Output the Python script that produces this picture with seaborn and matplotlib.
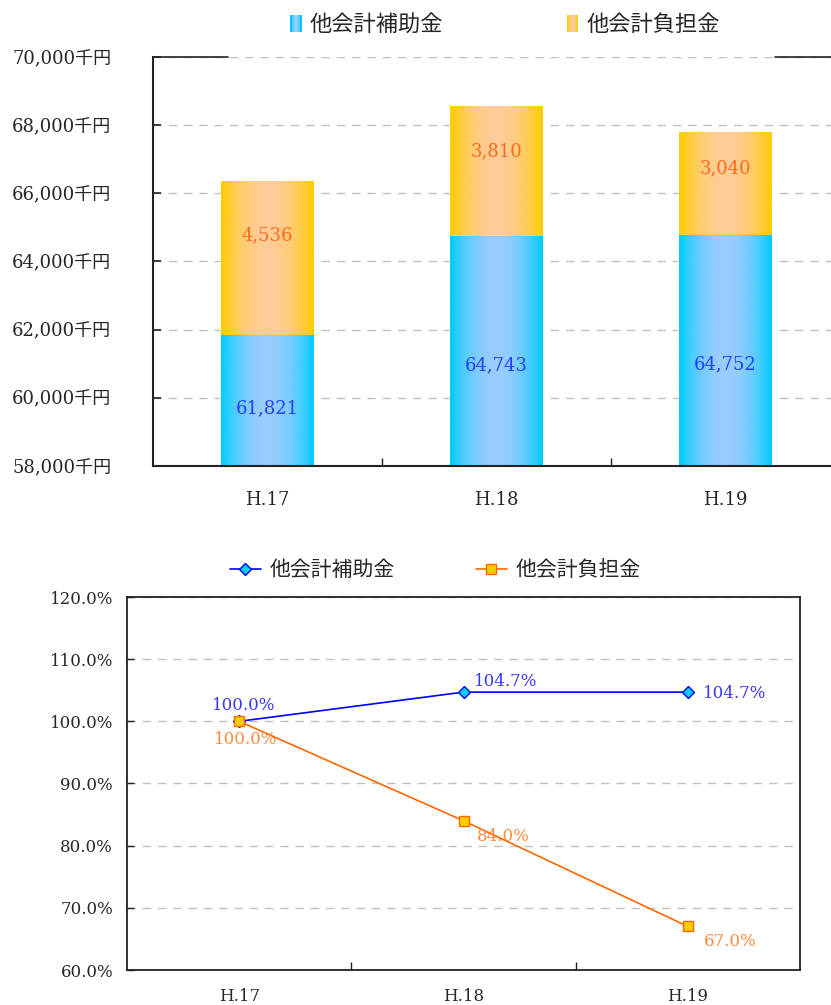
import numpy as np
import pandas as pd
import matplotlib
matplotlib.use("Agg")
import matplotlib.pyplot as plt
from matplotlib.colors import to_rgb
from matplotlib.legend_handler import HandlerBase
from matplotlib.patches import Rectangle
from matplotlib.ticker import FixedLocator
import seaborn as sns

# ---- data -------------------------------------------------------------
years = ["H.17", "H.18", "H.19"]
series_names = ["他会計補助金", "他会計負担金"]
subsidy = [61821, 64743, 64752]        # 他会計補助金 (千円)
burden = [4536, 3810, 3040]            # 他会計負担金 (千円)
subsidy_pct = [100.0, 104.7, 104.7]    # H.17 = 100
burden_pct = [100.0, 84.0, 67.0]
amount_ticks = [58000, 60000, 62000, 64000, 66000, 68000, 70000]
pct_ticks = [60, 70, 80, 90, 100, 110, 120]

# ---- style ------------------------------------------------------------
sns.set_theme(style="white")
plt.rcParams["font.family"] = ["DejaVu Serif", "Noto Sans CJK JP"]
plt.rcParams["axes.unicode_minus"] = False

BLUE_EDGE, BLUE_MID = "#00CCFF", "#99CCFF"
ORANGE_EDGE, ORANGE_MID = "#FFCC00", "#FFCC99"
SPINE = "#222222"
GRID = "#C0C0C0"


def gradient_colors(edge, center, n=64):
    x = np.linspace(0, 1, n)
    f = np.clip(1 - np.abs(2 * x - 1) ** 2, 0, 1)
    e = np.array(to_rgb(edge))
    c = np.array(to_rgb(center))
    return e[None, :] + (c - e)[None, :] * f[:, None]


def paint_bars(ax, patches, edge, center, z, floor):
    """Fill each bar with a horizontal edge-centre-edge gradient."""
    img = gradient_colors(edge, center)[None, :, :]
    for p in patches:
        x0, y0 = p.get_x(), p.get_y()
        w, h = p.get_width(), p.get_height()
        y_start = max(y0, floor)
        ax.imshow(img, extent=[x0, x0 + w, y_start, y0 + h], aspect="auto",
                  interpolation="bilinear", origin="lower", zorder=z)


class GradientHandler(HandlerBase):
    def __init__(self, edge, center):
        super().__init__()
        self.edge, self.center = edge, center

    def create_artists(self, legend, orig_handle, xdescent, ydescent,
                       width, height, fontsize, trans):
        n = 10
        cols = gradient_colors(self.edge, self.center, n)
        arts = []
        for i in range(n):
            r = Rectangle((-xdescent + i * width / n, -ydescent),
                          width / n * 1.08, height, facecolor=cols[i],
                          edgecolor="none", linewidth=0, transform=trans)
            arts.append(r)
        return arts


fig = plt.figure(figsize=(8.31, 10.05), dpi=100)

# ---- stacked amount chart ---------------------------------------------
df = pd.DataFrame({"year": years, "subsidy": subsidy, "burden": burden})
df["total"] = df["subsidy"] + df["burden"]

ax1 = fig.add_axes([153 / 831, 539 / 1005, 687 / 831, 409 / 1005])
n0 = len(ax1.patches)
sns.barplot(data=df, x="year", y="total", ax=ax1, color=ORANGE_EDGE,
            saturation=1, width=0.406, errorbar=None, zorder=2)
orange_patches = ax1.patches[n0:]
n1 = len(ax1.patches)
sns.barplot(data=df, x="year", y="subsidy", ax=ax1, color=BLUE_EDGE,
            saturation=1, width=0.406, errorbar=None, zorder=3)
blue_patches = ax1.patches[n1:]
paint_bars(ax1, orange_patches, ORANGE_EDGE, ORANGE_MID, 2.5, amount_ticks[0])
paint_bars(ax1, blue_patches, BLUE_EDGE, BLUE_MID, 3.5, amount_ticks[0])

ax1.set_xlim(-0.5, 2.5)
ax1.set_ylim(amount_ticks[0], amount_ticks[-1])
ax1.set_yticks(amount_ticks)
ax1.set_yticklabels([f"{v:,}千円" for v in amount_ticks], fontsize=13)
ax1.set_xticks(range(len(years)))
ax1.set_xticklabels(years, fontsize=13)
ax1.xaxis.set_minor_locator(FixedLocator([0.5, 1.5]))
ax1.tick_params(axis="x", which="major", length=0, pad=18)
ax1.tick_params(axis="x", which="minor", direction="in", length=6,
                width=1, color=SPINE, bottom=True)
ax1.tick_params(axis="y", direction="in", length=6, width=1.2,
                color=SPINE, pad=30, left=True)
ax1.set_xlabel("")
ax1.set_ylabel("")
ax1.yaxis.grid(True, linestyle=(0, (6, 5)), color=GRID, linewidth=1)
ax1.set_axisbelow(True)
for side in ("top", "right"):
    ax1.spines[side].set_visible(False)
for side in ("left", "bottom"):
    ax1.spines[side].set_color(SPINE)
    ax1.spines[side].set_linewidth(1.5)
    ax1.spines[side].set_zorder(6)
# top border, broken where the legend sits
for xa, xb in [(0.0, 0.109), (0.905, 1.0)]:
    ax1.plot([xa, xb], [1, 1], transform=ax1.transAxes, color=SPINE,
             linewidth=1.2, clip_on=False, zorder=5)

y_lo = amount_ticks[0]
for i in range(len(years)):
    ax1.text(i, y_lo + 0.44 * (subsidy[i] - y_lo), f"{subsidy[i]:,}",
             ha="center", va="center", fontsize=13, color="#2040FF", zorder=7)
    ax1.text(i, subsidy[i] + 0.65 * burden[i], f"{burden[i]:,}",
             ha="center", va="center", fontsize=13, color="#FF6A1A", zorder=7)

h_blue = Rectangle((0, 0), 1, 1)
h_orange = Rectangle((0, 0), 1, 1)
fig.legend([h_blue, h_orange], series_names, loc="center",
           bbox_to_anchor=(505 / 831, 1 - 25 / 1005), ncol=2, frameon=False,
           fontsize=16, handlelength=0.5, handleheight=0.8,
           handletextpad=0.35, columnspacing=5.6,
           handler_map={h_blue: GradientHandler(BLUE_EDGE, BLUE_MID),
                        h_orange: GradientHandler(ORANGE_EDGE, ORANGE_MID)})

# ---- ratio line chart -------------------------------------------------
ax2 = fig.add_axes([127 / 831, 35 / 1005, 673 / 831, 373 / 1005])
sns.lineplot(x=years, y=subsidy_pct, ax=ax2, sort=False, color="#0000FF",
             linewidth=1.2, marker="D", markersize=6.5,
             markerfacecolor="#00CCFF", markeredgecolor="#0000FF",
             markeredgewidth=1.0, label=series_names[0], zorder=4)
sns.lineplot(x=years, y=burden_pct, ax=ax2, sort=False, color="#FF6600",
             linewidth=1.2, marker="s", markersize=6.5,
             markerfacecolor="#FFCC00", markeredgecolor="#FF6600",
             markeredgewidth=1.0, label=series_names[1], zorder=5)

ax2.set_xlim(-0.5, 2.5)
ax2.set_ylim(pct_ticks[0], pct_ticks[-1])
ax2.set_yticks(pct_ticks)
ax2.set_yticklabels([f"{v:.1f}%" for v in pct_ticks], fontsize=12)
ax2.set_xticks(range(len(years)))
ax2.set_xticklabels(years, fontsize=12)
ax2.xaxis.set_minor_locator(FixedLocator([0.5, 1.5]))
ax2.tick_params(axis="x", which="major", length=0, pad=13)
ax2.tick_params(axis="x", which="minor", direction="in", length=6,
                width=1, color=SPINE, bottom=True)
ax2.tick_params(axis="y", direction="in", length=5, width=1,
                color=SPINE, pad=10, left=True)
ax2.set_xlabel("")
ax2.set_ylabel("")
ax2.yaxis.grid(True, linestyle=(0, (6, 5)), color=GRID, linewidth=1)
ax2.set_axisbelow(True)
for side in ("left", "bottom", "top", "right"):
    ax2.spines[side].set_color(SPINE)
    ax2.spines[side].set_linewidth(1.3)

blue_offsets = [(4, 16), (10, 11), (15, -1)]
orange_offsets = [(6, -18), (13, -16), (16, -15)]
for i in range(len(years)):
    dx, dy = blue_offsets[i]
    ax2.annotate(f"{subsidy_pct[i]:.1f}%", (i, subsidy_pct[i]),
                 xytext=(dx, dy), textcoords="offset pixels",
                 ha="center" if i == 0 else "left", va="center",
                 fontsize=12, color="#3535FF", zorder=6)
    dx, dy = orange_offsets[i]
    ax2.annotate(f"{burden_pct[i]:.1f}%", (i, burden_pct[i]),
                 xytext=(dx, dy), textcoords="offset pixels",
                 ha="center" if i == 0 else "left", va="center",
                 fontsize=12, color="#FF8A3D", zorder=6)

handles, labels = ax2.get_legend_handles_labels()
ax2.get_legend().remove()
fig.legend(handles, labels, loc="center",
           bbox_to_anchor=(435 / 831, 1 - 570 / 1005), ncol=2, frameon=False,
           fontsize=15, handlelength=1.5, handletextpad=0.4,
           columnspacing=3.9)

fig.savefig("out.png", dpi=100)
